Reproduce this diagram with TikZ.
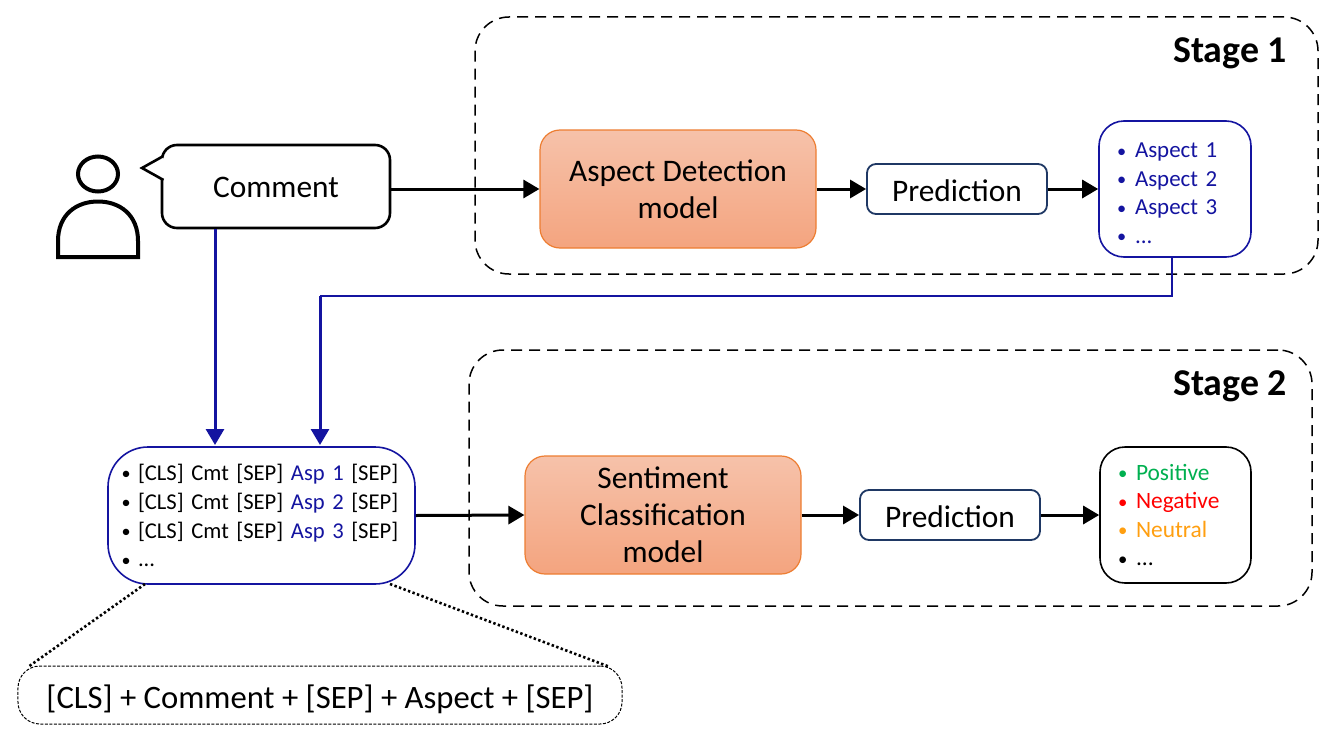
\documentclass[tikz,border=0pt]{standalone}
\usepackage{fontspec}
\setmainfont{Carlito}
\usetikzlibrary{arrows.meta,calc}
\definecolor{navyb}{HTML}{1414A0}
\definecolor{darkb}{HTML}{1F3864}
\definecolor{orb}{HTML}{ED7D31}
\definecolor{ortop}{HTML}{F6C2AA}
\definecolor{orbot}{HTML}{F4A47F}
\definecolor{gre}{HTML}{00B050}
\definecolor{orn}{HTML}{FF9F10}
\newcommand{\fs}[1]{\fontsize{#1}{#1}\selectfont}
\newcommand{\bul}[3][18bp]{\textcolor{#2}{\makebox[#1][l]{\raisebox{0.5bp}{\scalebox{0.8}{\textbullet}}}#3}}
\tikzset{
  x=1bp,y=-1bp,
  stagebox/.style={draw=black,line width=1.5bp,dash pattern=on 11bp off 7bp,rounded corners=34bp},
  modelbox/.style={draw=orb,line width=1.2bp,top color=ortop,bottom color=orbot,rounded corners=20bp,minimum width=276bp,minimum height=118bp,inner sep=0pt,align=center,font=\fs{31.5}},
  predbox/.style={draw=darkb,line width=1.8bp,fill=white,rounded corners=9bp,minimum width=180bp,minimum height=50bp,inner sep=0pt,text height=24bp,text depth=0bp,font=\fs{31.5}},
  listbox/.style={line width=1.6bp,fill=white,rounded corners=25bp,inner xsep=0pt,inner ysep=0pt,align=left},
  flow/.style={draw=black,line width=3bp,-{Triangle[length=16bp,width=18bp]}},
  blueflow/.style={draw=navyb,line width=3bp,-{Triangle[length=16bp,width=18bp]}},
  thinblue/.style={draw=navyb,line width=1.5bp},
  zoomline/.style={draw=black,line width=2.6bp,dash pattern=on 2.4bp off 2.4bp},
  stagelabel/.style={font=\fs{38}\bfseries,inner sep=0pt},
}
\begin{document}
\begin{tikzpicture}
\useasboundingbox (0,0) rectangle (1331,737);
% stage frames
\node[stagebox,minimum width=843bp,minimum height=257bp] (s1) at (896.5,145.5) {};
\node[stagebox,minimum width=843bp,minimum height=256bp] (s2) at (890.5,478) {};
\node[stagelabel] (s1t) at (1230,53) {Stage 1};
\node[stagelabel] (s2t) at (1230,386) {Stage 2};
% person
\draw[line width=4bp] (98,174) ellipse [x radius=20,y radius=17.5];
\draw[line width=4bp,line join=miter] (58,257) -- (58,241) .. controls (58,215) and (76,201.5) .. (98,201.5) .. controls (120,201.5) and (138,215) .. (138,241) -- (138,257) -- cycle;
% comment bubble
\node[draw=black,line width=2.6bp,fill=white,rounded corners=15bp,minimum width=228bp,minimum height=83bp,inner sep=0pt,text height=22bp,text depth=0bp,font=\fs{31.5}] (comment) at (276,186.5) {Comment};
\fill[white] (165,159) rectangle (160,178);
\draw[line width=2.6bp,line join=miter,fill=white] (163.5,156) -- (142,168) -- (163.5,180);
% models
\node[modelbox] (aspect) at (678,189) {Aspect Detection\\[5.5bp]model};
\node[predbox] (pred1) at (957,189) {Prediction};
\node[listbox,draw=navyb,minimum width=152bp,text width=116bp,inner xsep=18bp,minimum height=136bp,font=\fs{23}] (asplist) at (1175,189)
{\rule{0pt}{23bp}\bul{navyb}{Aspect 1}\\[5.5bp]\bul{navyb}{Aspect 2}\\[5.5bp]\bul{navyb}{Aspect 3}\\[5.5bp]\bul{navyb}{...}};
\node[listbox,draw=navyb,rounded corners=40bp,minimum width=307bp,text width=280bp,inner xsep=13.5bp,minimum height=137bp,font=\fs{22.7}] (input) at (261.5,515.5)
{\bul[16.5bp]{black}{[CLS] Cmt [SEP] \textcolor{navyb}{Asp 1} [SEP]}\\[6.3bp]\bul[16.5bp]{black}{[CLS] Cmt [SEP] \textcolor{navyb}{Asp 2} [SEP]}\\[6.3bp]\bul[16.5bp]{black}{[CLS] Cmt [SEP] \textcolor{navyb}{Asp 3} [SEP]}\\[6.3bp]\bul[16.5bp]{black}{...}};
\node[modelbox] (sentiment) at (663,515) {Sentiment\\[5.5bp]Classification\\[5.5bp]model};
\node[predbox] (pred2) at (950,515) {Prediction};
\node[listbox,draw=black,minimum width=151bp,text width=115bp,inner xsep=18bp,minimum height=136bp,font=\fs{23.5}] (result) at (1175.5,515)
{\bul{gre}{Positive}\\[5bp]\bul{red}{Negative}\\[5bp]\bul{orn}{Neutral}\\[5bp]\bul{black}{...}};
\node[draw=black,line width=1bp,dash pattern=on 3bp off 1.5bp,rounded corners=22bp,minimum width=604bp,minimum height=58bp,inner sep=0pt,text height=26bp,text depth=0bp,font=\fs{32.8}] (template) at (320,695) {[CLS] + Comment + [SEP] + Aspect + [SEP]};
% connectors
\draw[flow] (comment.east |- aspect.west) -- (aspect.west);
\draw[flow] (aspect.east) -- (pred1.west);
\draw[flow] (pred1.east) -- (asplist.west);
\draw[flow] (input.east) -- (sentiment.west);
\draw[flow] (sentiment.east) -- (pred2.west);
\draw[flow] (pred2.east) -- (result.west);
\coordinate (in1) at (215,445);
\coordinate (in2) at (320,445);
\coordinate (bend) at (320,296);
\draw[blueflow] (comment.south -| in1) -- (in1);
\draw[thinblue] (asplist.south -| 1172,0) |- (bend);
\draw[blueflow] (bend) -- (in2);
\coordinate (zl) at (145,584);
\coordinate (zr) at (390,584);
\coordinate (tl) at (28,667);
\coordinate (tr) at (610,667);
\draw[zoomline] (zl) -- (tl);
\draw[zoomline] (zr) -- (tr);
\end{tikzpicture}
\end{document}
